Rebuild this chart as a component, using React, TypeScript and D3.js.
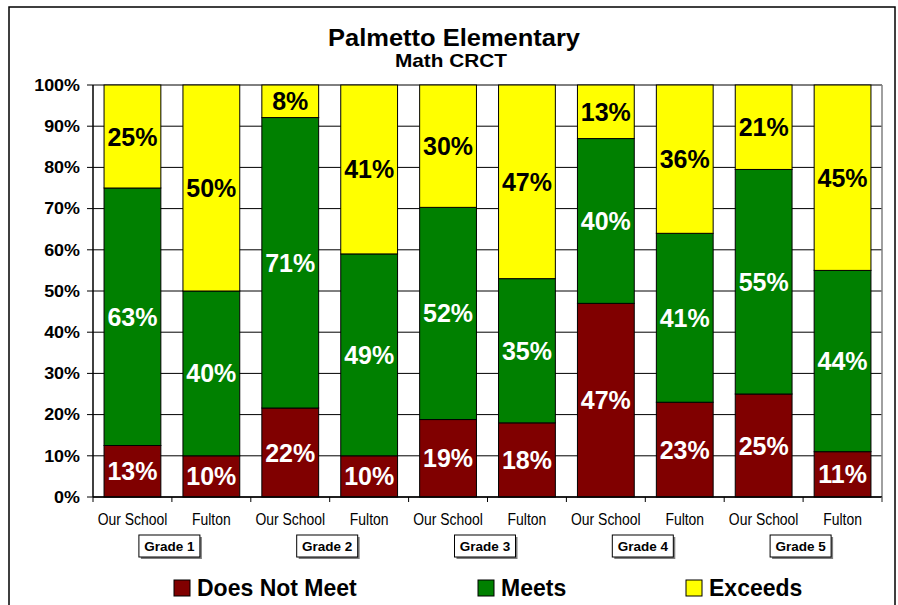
import React from 'react';
import * as d3 from 'd3';

// chart data (percent of students)
const grades = ['Grade 1', 'Grade 2', 'Grade 3', 'Grade 4', 'Grade 5'];
const schools = ['Our School', 'Fulton'];
const levels = ['Does Not Meet', 'Meets', 'Exceeds'];
const doesNotMeet = [12.5, 10, 21.6, 10, 18.8, 18, 47, 23, 25, 11];
const meets = [62.5, 40, 70.5, 49, 51.5, 35, 40, 41, 54.5, 44];
const exceeds = [25, 50, 7.9, 41, 29.7, 47, 13, 36, 20.5, 45];
const yTicks = [0, 10, 20, 30, 40, 50, 60, 70, 80, 90, 100];

const colors = ['#800000', '#008000', '#FFFF00'];
const labelColors = ['#FFFFFF', '#FFFFFF', '#000000'];
const FONT = 'Arial, "Liberation Sans", sans-serif';

const W = 898;
const H = 605;
const plot = { left: 93, right: 882, top: 85, bottom: 497 };

const App = () => {
  const rows = grades.flatMap((g, gi) =>
    schools.map((s, si) => {
      const i = gi * 2 + si;
      return { id: `${g}-${s}`, grade: g, school: s, 'Does Not Meet': doesNotMeet[i], Meets: meets[i], Exceeds: exceeds[i] };
    })
  );

  const x = d3.scaleBand<string>()
    .domain(rows.map(d => d.id))
    .range([plot.left, plot.right])
    .paddingInner(0.28)
    .paddingOuter(0.14);
  const step = x.step();

  const y = d3.scaleLinear().domain([0, 100]).range([plot.bottom, plot.top]);

  const stacked = d3.stack<any>().keys(levels)(rows);
  const fmt = (v: number) => `${Math.round(v)}%`;

  const legendPos = [174, 478, 686];

  return (
    <svg width={W} height={H} style={{ position: 'absolute', left: 0, top: 0, background: '#fff' }} fontFamily={FONT}>
      <rect x={9} y={7} width={886} height={610} fill="#fff" stroke="#000" strokeWidth={1.5} />

      <text x={454} y={46} textAnchor="middle" fontSize={23} fontWeight="bold"
        textLength={252} lengthAdjust="spacingAndGlyphs">Palmetto Elementary</text>
      <text x={451} y={67} textAnchor="middle" fontSize={19} fontWeight="bold"
        textLength={112} lengthAdjust="spacingAndGlyphs">Math CRCT</text>

      {/* gridlines */}
      {yTicks.map(t => (
        <line key={t} x1={plot.left} x2={plot.right} y1={y(t)} y2={y(t)} stroke="#000" strokeWidth={1} />
      ))}
      <line x1={plot.right} x2={plot.right} y1={plot.top} y2={plot.bottom + 5} stroke="#808080" strokeWidth={1.5} />

      {/* bars */}
      {stacked.map((layer, li) =>
        layer.map((d, i) => (
          <rect key={`${li}-${i}`} x={x(rows[i].id)} y={y(d[1])} width={x.bandwidth()}
            height={y(d[0]) - y(d[1])} fill={colors[li]} stroke="#000" strokeWidth={1} />
        ))
      )}

      {/* segment labels */}
      {stacked.map((layer, li) =>
        layer.map((d, i) => (
          <text key={`l${li}-${i}`} x={(x(rows[i].id) as number) + x.bandwidth() / 2} y={y((d[0] + d[1]) / 2)}
            dy="0.36em" textAnchor="middle" fontSize={25} fontWeight="bold" fill={labelColors[li]}>
            {fmt(d[1] - d[0])}
          </text>
        ))
      )}

      {/* y axis */}
      <line x1={plot.left} x2={plot.left} y1={plot.top} y2={plot.bottom} stroke="#000" strokeWidth={1.5} />
      {yTicks.map(t => (
        <g key={`yt${t}`}>
          <line x1={plot.left - 6} x2={plot.left} y1={y(t)} y2={y(t)} stroke="#000" strokeWidth={1} />
          <text x={80} y={y(t)} dy="0.36em" textAnchor="end" fontSize={16} fontWeight="bold"
            transform={`translate(80,0) scale(1.12,1) translate(-80,0)`}>{t}%</text>
        </g>
      ))}

      {/* x axis */}
      <line x1={plot.left} x2={plot.right} y1={plot.bottom} y2={plot.bottom} stroke="#000" strokeWidth={1.5} />
      {d3.range(rows.length + 1).map(i => (
        <line key={`xt${i}`} x1={plot.left + i * step} x2={plot.left + i * step} y1={plot.bottom} y2={plot.bottom + 5}
          stroke={i === rows.length ? '#808080' : '#000'} strokeWidth={1} />
      ))}
      {rows.map(r => (
        <g key={`xl${r.id}`} transform={`translate(${(x(r.id) as number) + x.bandwidth() / 2},525) scale(0.87,1)`}>
          <text x={0} y={0} textAnchor="middle" fontSize={16}>{r.school}</text>
        </g>
      ))}
      {grades.map((g, gi) => {
        const cx = plot.left + (gi * 2 + 1) * step - 2;
        return (
          <g key={g}>
            <rect x={cx - 29} y={537} width={61} height={22} fill="#808080" />
            <rect x={cx - 31} y={535} width={61} height={22} fill="#fff" stroke="#000" strokeWidth={1} />
            <text x={cx - 0.5} y={551} textAnchor="middle" fontSize={13.5} fontWeight="bold">{g}</text>
          </g>
        );
      })}

      {/* legend */}
      {levels.map((lv, li) => (
        <g key={lv}>
          <rect x={legendPos[li]} y={580} width={16} height={16} fill={colors[li]} stroke="#000" strokeWidth={1} />
          <text x={legendPos[li] + 23} y={596} fontSize={23} fontWeight="bold">{lv}</text>
        </g>
      ))}
    </svg>
  );
};

export default App;
